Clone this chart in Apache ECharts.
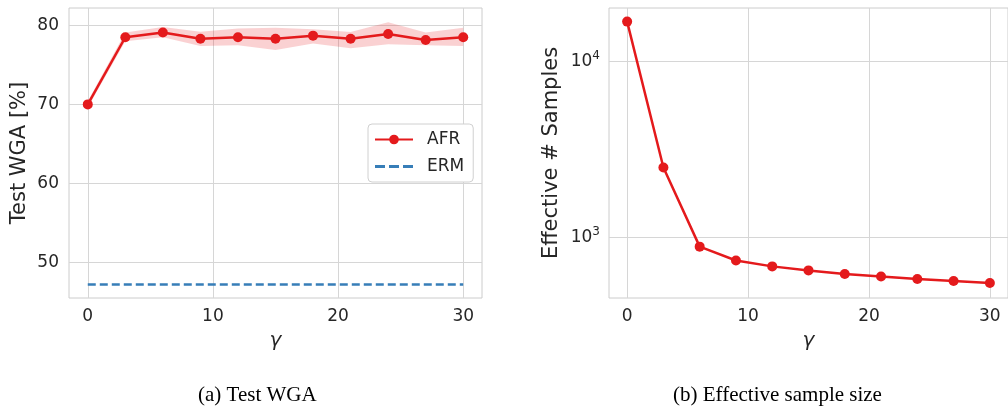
<!DOCTYPE html>
<html>
<head>
<meta charset="utf-8">
<script src="https://cdn.jsdelivr.net/npm/echarts@6/dist/echarts.min.js"></script>
<style>
  html, body { margin: 0; padding: 0; background: #fff; }
  #chart { width: 1008px; height: 406px; }
</style>
</head>
<body>
<div id="chart"></div>
<script>
// gamma values shared by both panels
const gammas = [0, 3, 6, 9, 12, 15, 18, 21, 24, 27, 30];

// (a) test worst-group accuracy
const afrMean  = [70.0, 78.5, 79.1, 78.3, 78.5, 78.3, 78.7, 78.3, 78.9, 78.15, 78.5];
const afrLower = [69.6, 78.0, 78.5, 77.4, 77.5, 76.9, 77.7, 77.1, 77.6, 77.5, 77.4];
const afrUpper = [70.4, 79.1, 79.8, 79.2, 79.6, 79.7, 79.5, 79.15, 80.4, 79.1, 79.7];
const ermValue = 47.2;
const leftTicksY = [50, 60, 70, 80];

// (b) effective sample size
const effSamples = [16900, 2500, 886, 739, 684, 649, 619, 599, 580, 565, 550];
const rightTicksY = [1000, 10000];

const xTicks = [0, 10, 20, 30];

const red = '#e41a1c';
const blue = '#377eb8';
const txt = '#262626';
const gridCol = '#d6d6d6';
const font = 'DejaVu Sans';

const pairs = (ys) => gammas.map((g, i) => [g, ys[i]]);

function xAxisFor(idx) {
  return {
    type: 'value', gridIndex: idx, min: -1.5, max: 31.5,
    name: 'γ', nameLocation: 'middle', nameGap: 33,
    nameTextStyle: { fontFamily: font, fontStyle: 'italic', fontSize: 20, color: txt },
    axisLine: { show: false },
    axisTick: { show: false, customValues: xTicks },
    axisLabel: { customValues: xTicks, margin: 10, fontFamily: font, fontSize: 17, color: txt },
    splitLine: { show: true, lineStyle: { color: gridCol, width: 1 } }
  };
}

// shaded band between lower and upper, one polygon through the axis scales
function renderBand(params, api) {
  if (params.dataIndex !== 0) return null;
  const top = gammas.map((g, i) => api.coord([g, afrUpper[i]]));
  const bottom = gammas.map((g, i) => api.coord([g, afrLower[i]])).reverse();
  return {
    type: 'polygon',
    shape: { points: top.concat(bottom) },
    style: { fill: red, opacity: 0.2 },
    silent: true
  };
}

const chart = echarts.init(document.getElementById('chart'), null, { renderer: 'canvas' });

chart.setOption({
  animation: false,
  backgroundColor: '#fff',
  grid: [
    { left: 69, top: 8, width: 413, height: 290, show: true, borderColor: '#cccccc', borderWidth: 1 },
    { left: 609, top: 8, right: -6, height: 290, show: true, borderColor: '#cccccc', borderWidth: 1 }
  ],
  xAxis: [xAxisFor(0), xAxisFor(1)],
  yAxis: [
    {
      type: 'value', gridIndex: 0, min: 45.5, max: 82.2,
      name: 'Test WGA [%]', nameLocation: 'middle', nameGap: 39,
      nameTextStyle: { fontFamily: font, fontSize: 21, color: txt },
      axisLine: { show: false },
      axisTick: { show: false, customValues: leftTicksY },
      axisLabel: { customValues: leftTicksY, margin: 10, fontFamily: font, fontSize: 17, color: txt },
      splitLine: { show: true, lineStyle: { color: gridCol, width: 1 } }
    },
    {
      type: 'log', logBase: 10, gridIndex: 1, min: 452, max: 20200,
      name: 'Effective # Samples', nameLocation: 'middle', nameGap: 47,
      nameTextStyle: { fontFamily: font, fontSize: 21, color: txt },
      axisLine: { show: false },
      axisTick: { show: false, customValues: rightTicksY },
      axisLabel: {
        customValues: rightTicksY, margin: 9,
        formatter: (v) => '10{sup|' + Math.round(Math.log10(v)) + '}',
        fontFamily: font, fontSize: 17, color: txt,
        rich: { sup: { fontFamily: font, fontSize: 12, color: txt, verticalAlign: 'bottom', padding: [0, 0, 12, 0] } }
      },
      splitLine: { show: true, lineStyle: { color: gridCol, width: 1 } }
    }
  ],
  legend: {
    left: 368, top: 124, orient: 'vertical',
    data: [
      { name: 'AFR' },
      { name: 'ERM', icon: 'path://M0,0h10v3h-10z M14,0h10v3h-10z M28,0h10v3h-10z' }
    ],
    itemWidth: 38, itemHeight: 12, itemGap: 10,
    padding: [7, 9, 7, 6],
    borderColor: '#d0d0d0', borderWidth: 1, borderRadius: 4,
    backgroundColor: '#fff',
    textStyle: { fontFamily: font, fontSize: 17, color: txt, padding: [0, 0, 0, 9] }
  },
  series: [
    {
      name: 'band', type: 'custom', xAxisIndex: 0, yAxisIndex: 0,
      data: gammas.map((g, i) => [g, afrLower[i], afrUpper[i]]),
      encode: { x: 0, y: [1, 2] },
      renderItem: renderBand, silent: true, z: 1
    },
    {
      name: 'AFR', type: 'line', xAxisIndex: 0, yAxisIndex: 0,
      data: pairs(afrMean), symbol: 'circle', symbolSize: 10,
      itemStyle: { color: red }, lineStyle: { color: red, width: 2.5 }, z: 3
    },
    {
      name: 'ERM', type: 'line', xAxisIndex: 0, yAxisIndex: 0,
      data: gammas.map((g) => [g, ermValue]), symbol: 'none',
      itemStyle: { color: blue }, lineStyle: { color: blue, width: 2.5, type: [8, 4] }
    },
    {
      name: 'ESS', type: 'line', xAxisIndex: 1, yAxisIndex: 1,
      data: pairs(effSamples), symbol: 'circle', symbolSize: 10,
      itemStyle: { color: red }, lineStyle: { color: red, width: 2.5 }
    }
  ],
  graphic: [
    { type: 'text', left: 198, top: 385, style: { text: '(a) Test WGA', font: '21px "Liberation Serif"', fill: '#000' } },
    { type: 'text', left: 673, top: 385, style: { text: '(b) Effective sample size', font: '21px "Liberation Serif"', fill: '#000' } }
  ]
});
</script>
</body>
</html>
